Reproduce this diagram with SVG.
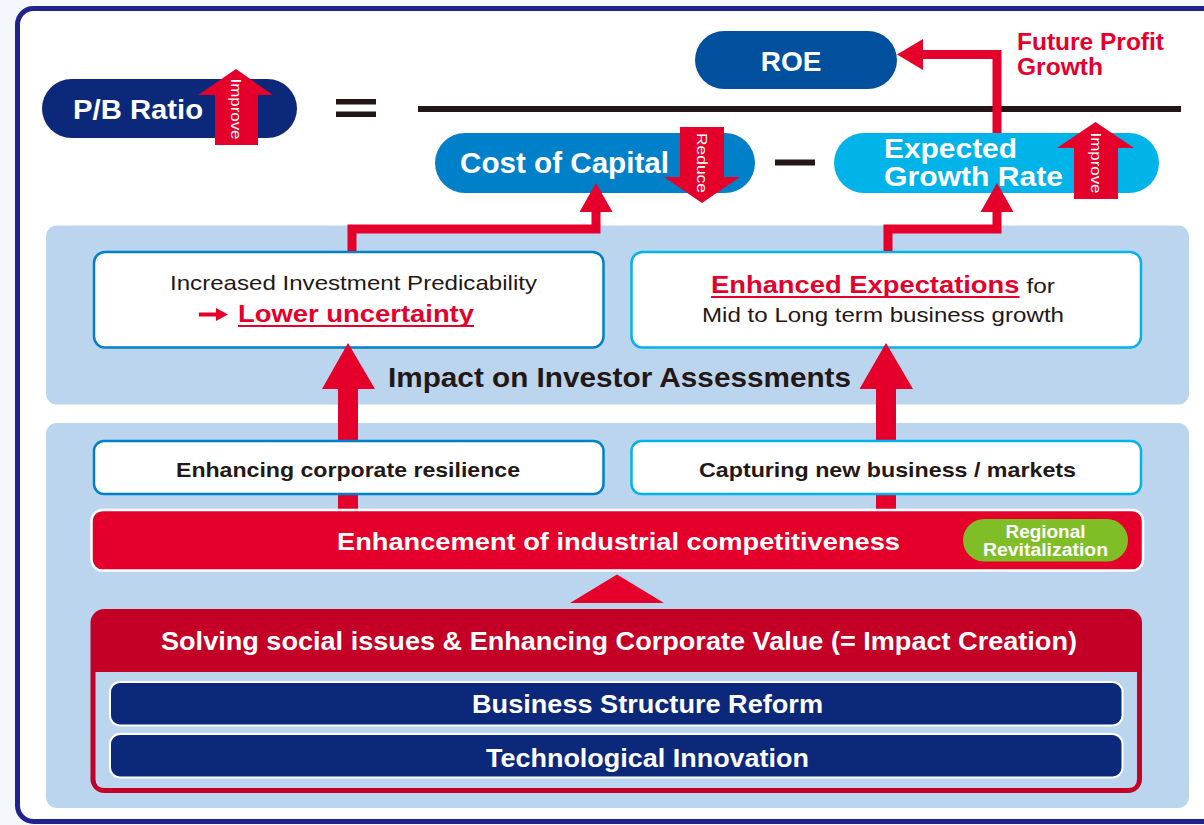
<svg xmlns="http://www.w3.org/2000/svg" width="1204" height="825" viewBox="0 0 1204 825">
  <defs>
    <style>
      .t { font-family: "Liberation Sans", Arial, Helvetica, sans-serif; }
      .b { font-weight: bold; }
      .w { fill: #ffffff; }
      .k { fill: #231815; }
      .r { fill: #e4002b; }
      .red { fill: #e4002b; }
      .conn { fill: none; stroke: #e4002b; stroke-width: 9; stroke-linejoin: miter; }
      .panel { fill: #bbd5ef; }
      .boxA { fill: #ffffff; stroke: #0080c8; stroke-width: 2.5; }
      .boxB { fill: #ffffff; stroke: #00b4ea; stroke-width: 2.5; }
      .bar { fill: #0b287a; stroke: #ffffff; stroke-width: 2; }
      .vt { font-size: 15px; }
    </style>
  </defs>

  <rect x="0" y="0" width="1204" height="825" fill="#f4f7fc"/>
  <rect id="frame" x="17.5" y="8.5" width="1214" height="813" rx="16" fill="#ffffff" stroke="#22228c" stroke-width="5"/>

  <!-- Equation -->
  <g id="pb-ratio">
    <rect x="42" y="79" width="255" height="59" rx="29.5" fill="#0b287a"/>
    <text class="t b w" x="73" y="119" font-size="27" textLength="130" lengthAdjust="spacingAndGlyphs">P/B Ratio</text>
    <polygon class="red" points="236,69 273,95 258,95 258,145 215,145 215,95 198,95"/>
    <text class="t w vt" text-anchor="middle" transform="translate(236.5,109) rotate(90)" dy="0.35em" textLength="61" lengthAdjust="spacingAndGlyphs">Improve</text>
  </g>

  <g id="equals">
    <rect x="336" y="99" width="40" height="5.5" fill="#231815"/>
    <rect x="336" y="111.5" width="40" height="5.5" fill="#231815"/>
  </g>

  <g id="fraction-line">
    <rect x="418" y="106" width="763" height="6" fill="#231815"/>
  </g>

  <g id="roe">
    <rect x="695" y="31" width="202" height="58" rx="29" fill="#00509e"/>
    <text class="t b w" x="791" y="70.5" font-size="28" text-anchor="middle">ROE</text>
  </g>

  <g id="cost-of-capital">
    <rect x="435" y="133" width="320" height="60" rx="30" fill="#0080c8"/>
    <text class="t b w" x="460" y="173" font-size="29" textLength="209" lengthAdjust="spacingAndGlyphs">Cost of Capital</text>
    <polygon class="red" points="680,127 724,127 724,177 740,177 702,203 664,177 680,177"/>
    <text class="t w vt" text-anchor="middle" transform="translate(702.5,163) rotate(90)" dy="0.35em" textLength="60" lengthAdjust="spacingAndGlyphs">Reduce</text>
  </g>

  <g id="minus">
    <rect x="775" y="159.5" width="40" height="6" fill="#231815"/>
  </g>

  <g id="expected-growth-rate">
    <rect x="834" y="133" width="325" height="60" rx="30" fill="#00b4ea"/>
    <text class="t b w" x="884" y="157.5" font-size="28" textLength="133" lengthAdjust="spacingAndGlyphs">Expected</text>
    <text class="t b w" x="884" y="186" font-size="28" textLength="179" lengthAdjust="spacingAndGlyphs">Growth Rate</text>
    <polygon class="red" points="1095.5,122 1134,148 1118,148 1118,199 1074,199 1074,148 1057,148"/>
    <text class="t w vt" text-anchor="middle" transform="translate(1096.5,163) rotate(90)" dy="0.35em" textLength="61" lengthAdjust="spacingAndGlyphs">Improve</text>
  </g>

  <g id="future-profit-label">
    <text class="t b r" x="1017" y="50" font-size="23" textLength="147" lengthAdjust="spacingAndGlyphs">Future Profit</text>
    <text class="t b r" x="1017" y="74.5" font-size="23" textLength="86" lengthAdjust="spacingAndGlyphs">Growth</text>
  </g>

  <!-- Panels -->
  <g id="investor-panel">
    <rect class="panel" x="46" y="225.5" width="1143" height="179" rx="11"/>
    <text class="t b k" x="619.5" y="387" font-size="28" text-anchor="middle" textLength="463" lengthAdjust="spacingAndGlyphs">Impact on Investor Assessments</text>
  </g>
  <g id="lower-panel">
    <rect class="panel" x="46" y="423" width="1143" height="385" rx="11"/>
  </g>

  <g id="predictability-box">
    <rect class="boxA" x="94" y="252" width="509.5" height="95.5" rx="11"/>
    <text class="t k" x="353.5" y="290" font-size="21" text-anchor="middle" textLength="367" lengthAdjust="spacingAndGlyphs">Increased Investment Predicability</text>
    <polygon class="red" points="199,312.5 216,312.5 216,308 228,314.5 216,321 216,316.5 199,316.5"/>
    <text class="t b r" x="238" y="321.5" font-size="24" textLength="236" lengthAdjust="spacingAndGlyphs">Lower uncertainty</text>
    <rect class="red" x="238" y="325" width="236" height="2"/>
  </g>

  <g id="expectations-box">
    <rect class="boxB" x="631.5" y="252" width="509.5" height="95.5" rx="11"/>
    <text class="t b r" x="711" y="293" font-size="24" textLength="308.5" lengthAdjust="spacingAndGlyphs">Enhanced Expectations</text>
    <rect class="red" x="711" y="296" width="308.5" height="2"/>
    <text class="t k" x="1026.5" y="293" font-size="21" textLength="28.5" lengthAdjust="spacingAndGlyphs">for</text>
    <text class="t k" x="883" y="321.5" font-size="21" text-anchor="middle" textLength="362" lengthAdjust="spacingAndGlyphs">Mid to Long term business growth</text>
  </g>

  <!-- Connectors -->
  <g id="connectors">
    <path class="conn" d="M997,133 V54.5 H920"/>
    <polygon class="red" points="897,54.5 923,39 923,70"/>
    <path class="conn" d="M352,251 V229 H596 V209"/>
    <polygon class="red" points="596,183 612.5,212 579.5,212"/>
    <path class="conn" d="M888,251 V229 H997 V209"/>
    <polygon class="red" points="997,183 1013.5,212 980.5,212"/>
    <rect class="red" x="338" y="388" width="20" height="123"/>
    <polygon class="red" points="348,343 375,389 322,389"/>
    <rect class="red" x="876" y="388" width="20" height="123"/>
    <polygon class="red" points="886,343 913,389 859.5,389"/>
    <polygon class="red" points="617,574.5 664,603 570,603"/>
  </g>

  <g id="resilience-box">
    <rect class="boxA" x="94" y="441" width="509.5" height="53" rx="10"/>
    <text class="t b k" x="348" y="477" font-size="20.5" text-anchor="middle" textLength="344" lengthAdjust="spacingAndGlyphs">Enhancing corporate resilience</text>
  </g>

  <g id="new-business-box">
    <rect class="boxB" x="631.5" y="441" width="509.5" height="53" rx="10"/>
    <text class="t b k" x="887.5" y="477" font-size="20.5" text-anchor="middle" textLength="377" lengthAdjust="spacingAndGlyphs">Capturing new business / markets</text>
  </g>

  <g id="competitiveness-banner">
    <rect x="91.5" y="510" width="1051.5" height="60.5" rx="11" fill="#e4002b" stroke="#ffffff" stroke-width="2.5"/>
    <text class="t b w" x="618.5" y="550" font-size="24.5" text-anchor="middle" textLength="563" lengthAdjust="spacingAndGlyphs">Enhancement of industrial competitiveness</text>
  </g>

  <g id="regional-revitalization">
    <rect x="963" y="519" width="165" height="42.5" rx="21.25" fill="#80be28"/>
    <text class="t b w" x="1045.5" y="538" font-size="17.5" text-anchor="middle" textLength="80" lengthAdjust="spacingAndGlyphs">Regional</text>
    <text class="t b w" x="1045.5" y="556" font-size="17.5" text-anchor="middle" textLength="125" lengthAdjust="spacingAndGlyphs">Revitalization</text>
  </g>

  <g id="impact-creation">
    <rect x="90.5" y="609" width="1051.5" height="184" rx="14" fill="#c50026"/>
    <path class="panel" d="M95.5,672 H1137 V779 Q1137,788 1128,788 H104.5 Q95.5,788 95.5,779 Z"/>
    <text class="t b w" x="619" y="650" font-size="25" text-anchor="middle" textLength="916" lengthAdjust="spacingAndGlyphs">Solving social issues &amp; Enhancing Corporate Value (= Impact Creation)</text>
  </g>

  <g id="business-structure-reform">
    <rect class="bar" x="110" y="682" width="1012.5" height="43.5" rx="10"/>
    <text class="t b w" x="647.5" y="712.5" font-size="25.5" text-anchor="middle" textLength="351" lengthAdjust="spacingAndGlyphs">Business Structure Reform</text>
  </g>

  <g id="technological-innovation">
    <rect class="bar" x="110" y="734" width="1012.5" height="43.5" rx="10"/>
    <text class="t b w" x="647.5" y="766.5" font-size="25.5" text-anchor="middle" textLength="323" lengthAdjust="spacingAndGlyphs">Technological Innovation</text>
  </g>
</svg>
